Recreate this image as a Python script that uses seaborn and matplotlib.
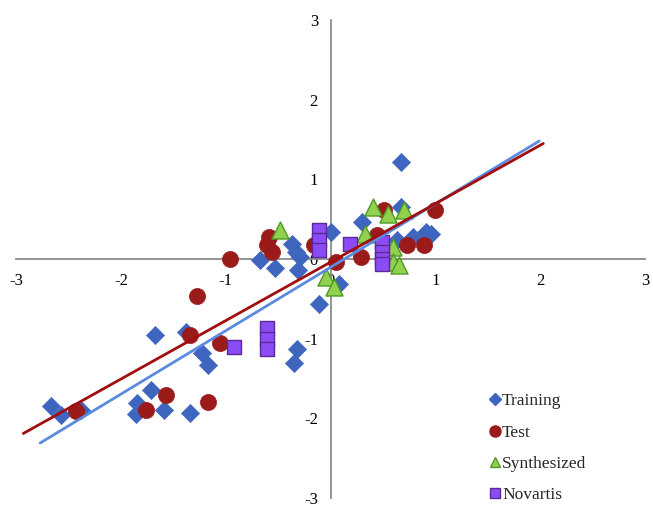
import matplotlib
matplotlib.use("Agg")
import matplotlib.pyplot as plt
from matplotlib.lines import Line2D
import seaborn as sns
import pandas as pd

# ---- data ----
train_x = [-2.67, -2.57, -2.38, -1.86, -1.85, -1.71, -1.59, -1.34, -1.67, -1.38,
           -1.23, -1.17, -0.35, -0.32, -0.11, -0.67, -0.53, -0.37, -0.33, -0.29,
           -0.31, 0.00, 0.08, 0.30, 0.67, 0.67, 0.63, 0.79, 0.91, 0.96]
train_y = [-1.84, -1.96, -1.89, -1.94, -1.81, -1.65, -1.89, -1.93, -0.96, -0.92,
           -1.18, -1.33, -1.30, -1.13, -0.57, -0.01, -0.11, 0.19, 0.09, 0.02,
           -0.14, 0.34, -0.32, 0.46, 1.22, 0.65, 0.24, 0.27, 0.34, 0.31]

test_x = [-2.43, -1.76, -1.57, -1.17, -1.34, -1.05, -1.27, -0.96, -0.59, -0.61,
          -0.56, -0.16, 0.05, 0.29, 0.44, 0.51, 0.73, 0.89, 1.00]
test_y = [-1.91, -1.90, -1.71, -1.79, -0.96, -1.06, -0.46, 0.00, 0.27, 0.17,
          0.09, 0.17, -0.04, 0.02, 0.30, 0.62, 0.17, 0.17, 0.62]

synth_x = [-0.48, -0.04, 0.03, 0.33, 0.41, 0.55, 0.70, 0.60, 0.60, 0.65]
synth_y = [0.37, -0.22, -0.35, 0.31, 0.65, 0.56, 0.62, 0.15, -0.04, -0.07]

nov_x = [-0.92, -0.61, -0.61, -0.61, -0.11, -0.11, -0.11, 0.19, 0.49, 0.49, 0.49, 0.49]
nov_y = [-1.11, -0.87, -1.01, -1.13, 0.37, 0.24, 0.11, 0.19, 0.21, 0.09, 0.00, -0.06]

# fitted trend lines (end points)
train_fit_x = [-2.77, 1.99]
train_fit_y = [-2.31, 1.48]
test_fit_x = [-2.93, 2.03]
test_fit_y = [-2.19, 1.45]

ticks = [-3, -2, -1, 0, 1, 2, 3]
labels = ["Training", "Test", "Synthesized", "Novartis"]

# ---- styles ----
sns.set_style("white")
plt.rcParams['font.family'] = ['Liberation Serif', 'DejaVu Serif']

c_train = "#3F66BF"
c_test = "#9B1B1B"
c_syn, e_syn = "#92D050", "#4E9A22"
c_nov, e_nov = "#8C4CF5", "#5A2A98"
c_train_line = "#5B8BDF"
c_test_line = "#A00E0E"
axis_col = "#8C8C8C"

fig = plt.figure(figsize=(6.53, 5.08), dpi=100)
ax = fig.add_axes([16 / 653, 10 / 508, 629 / 653, 478 / 508])

df_tr = pd.DataFrame({"x": train_x, "y": train_y})
df_te = pd.DataFrame({"x": test_x, "y": test_y})
df_sy = pd.DataFrame({"x": synth_x, "y": synth_y})
df_no = pd.DataFrame({"x": nov_x, "y": nov_y})

sns.scatterplot(data=df_tr, x="x", y="y", ax=ax, marker="D", s=85,
                color=c_train, edgecolor=c_train, linewidth=0.5, zorder=3, legend=False)
sns.scatterplot(data=df_te, x="x", y="y", ax=ax, marker="o", s=135,
                color=c_test, edgecolor=c_test, linewidth=0.5, zorder=4, legend=False)
sns.scatterplot(data=df_sy, x="x", y="y", ax=ax, marker="^", s=150,
                color=c_syn, edgecolor=e_syn, linewidth=1.0, zorder=5, legend=False)
sns.scatterplot(data=df_no, x="x", y="y", ax=ax, marker="s", s=110,
                color=c_nov, edgecolor=e_nov, linewidth=1.0, zorder=6, legend=False)

sns.lineplot(x=train_fit_x, y=train_fit_y, ax=ax, color=c_train_line, linewidth=2.0,
             zorder=7, legend=False)
sns.lineplot(x=test_fit_x, y=test_fit_y, ax=ax, color=c_test_line, linewidth=2.0,
             zorder=8, legend=False)

ax.set_xlim(-3, 3)
ax.set_ylim(-3, 3)
ax.set_xticks(ticks)
ax.set_yticks(ticks)
ax.set_xticklabels([str(t) for t in ticks])
ax.set_yticklabels([str(t) for t in ticks])
ax.set_xlabel("")
ax.set_ylabel("")

for side in ["top", "right"]:
    ax.spines[side].set_visible(False)
ax.spines["left"].set_position(("data", 0))
ax.spines["bottom"].set_position(("data", 0))
for side in ["left", "bottom"]:
    ax.spines[side].set_color(axis_col)
    ax.spines[side].set_linewidth(1.3)
    ax.spines[side].set_zorder(2)

ax.tick_params(axis="both", which="major", direction="out", length=4, width=1.0,
               color=axis_col, labelsize=12, labelcolor="black")
ax.tick_params(axis="x", pad=6)
ax.tick_params(axis="y", pad=5)

handles = [
    Line2D([], [], marker="D", linestyle="none", color=c_train, markersize=6),
    Line2D([], [], marker="o", linestyle="none", color=c_test, markersize=8),
    Line2D([], [], marker="^", linestyle="none", color=c_syn, markeredgecolor=e_syn,
           markersize=7),
    Line2D([], [], marker="s", linestyle="none", color=c_nov, markeredgecolor=e_nov,
           markersize=7),
]
ax.legend(handles, labels, loc="upper left", bbox_to_anchor=(490 / 653, 1 - 393 / 508),
          bbox_transform=fig.transFigure, frameon=False, fontsize=12.5,
          handlelength=0.6, handletextpad=0.1, labelspacing=0.88, borderpad=0,
          borderaxespad=0)

fig.savefig("out.png", dpi=100)
